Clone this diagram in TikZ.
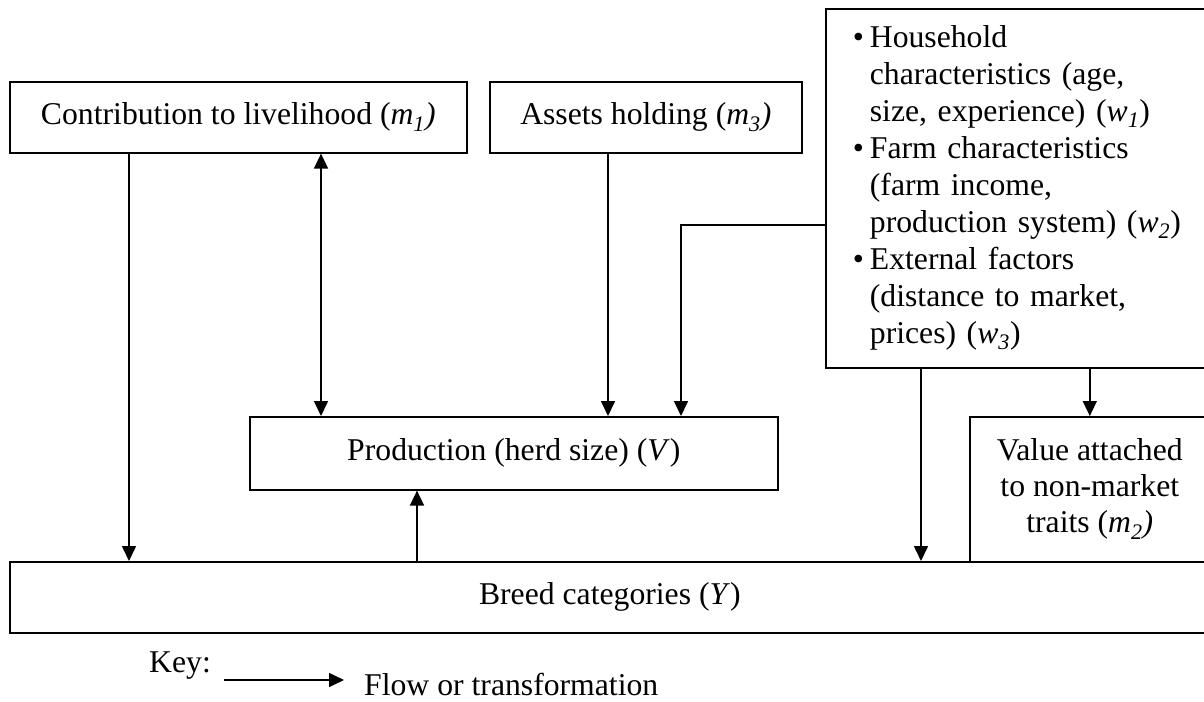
\documentclass[tikz,border=0pt]{standalone}
\usepackage{fontspec}
\setmainfont{Liberation Serif}
\usetikzlibrary{arrows.meta}

\newcommand{\boxfont}{\fontsize{31.7}{37}\selectfont}

\tikzset{
  box/.style={draw, rectangle, line width=1.6pt, inner sep=0pt, align=center, font=\boxfont},
  flow/.style={line width=1.6pt, -{Triangle[length=15pt,width=14pt]}},
  twoway/.style={line width=1.6pt, {Triangle[length=15pt,width=14pt]}-{Triangle[length=15pt,width=14pt]}},
}

\begin{document}
\begin{tikzpicture}[x=1pt, y=-1pt]

    % page size
    \useasboundingbox (0,0) rectangle (1204,701);

    % top boxes
    \node[box, anchor=north west, minimum width=457pt, minimum height=71pt] (contrib) at (9,81)
        {Contribution to livelihood (\textit{m\textsubscript{1})}};
    \node[box, anchor=north west, minimum width=312pt, minimum height=71pt] (assets) at (489,81)
        {Assets holding (\textit{m\textsubscript{3})}};

    % factors box with three bullets
    \node[box, anchor=north west, minimum width=384pt, minimum height=359pt,
          inner xsep=27pt, text width=330pt, align=left] (factors) at (825,8)
        {\begin{tabular}{@{}l@{\hspace{6pt}}l@{}}
         \textbullet & Household\\
                     & characteristics (age,\\
                     & size, experience) (\textit{w\textsubscript{1}})\\
         \textbullet & Farm characteristics\\
                     & (farm income,\\
                     & production system) (\textit{w\textsubscript{2}})\\
         \textbullet & External factors\\
                     & (distance to market,\\
                     & prices) (\textit{w\textsubscript{3}})
         \end{tabular}};

    % middle and bottom boxes
    \node[box, anchor=north west, minimum width=528pt, minimum height=73pt] (prod) at (249,416)
        {Production (herd size) (\textit{V})};
    \node[box, anchor=north west, minimum width=240pt, minimum height=145pt,
          font=\fontsize{31.7}{36}\selectfont] (value) at (969,416)
        {Value attached\\to non-market\\traits (\textit{m\textsubscript{2})}};
    \node[box, anchor=north west, minimum width=1200pt, minimum height=71pt] (breed) at (9,561)
        {Breed categories (\textit{Y})};

    % columns of the connectors
    \coordinate (xa) at (129,0);
    \coordinate (xb) at (321,0);
    \coordinate (xc) at (608,0);
    \coordinate (xd) at (417,0);
    \coordinate (xe) at (921,0);
    \coordinate (bend) at (681,225);

    % connectors
    \draw[flow] (contrib.south -| xa) -- (breed.north -| xa);
    \draw[twoway] (contrib.south -| xb) -- (prod.north -| xb);
    \draw[flow] (assets.south -| xc) -- (prod.north -| xc);
    \draw[flow] (factors.west |- bend) -- (bend) -- (prod.north -| bend);
    \draw[flow] (breed.north -| xd) -- (prod.south -| xd);
    \draw[flow] (factors.south -| xe) -- (breed.north -| xe);
    \draw[flow] (factors.south -| value.north) -- (value.north);

    % key
    \node[anchor=base west, inner sep=0pt, font=\boxfont] (keylbl) at (149,672) {Key:};
    \node[anchor=base west, inner sep=0pt, font=\boxfont] (keytxt) at (364,695) {Flow or transformation};
    \coordinate (keya) at (224,680);
    \coordinate (keyb) at (344,680);
    \draw[flow] (keya) -- (keyb);

\end{tikzpicture}
\end{document}
